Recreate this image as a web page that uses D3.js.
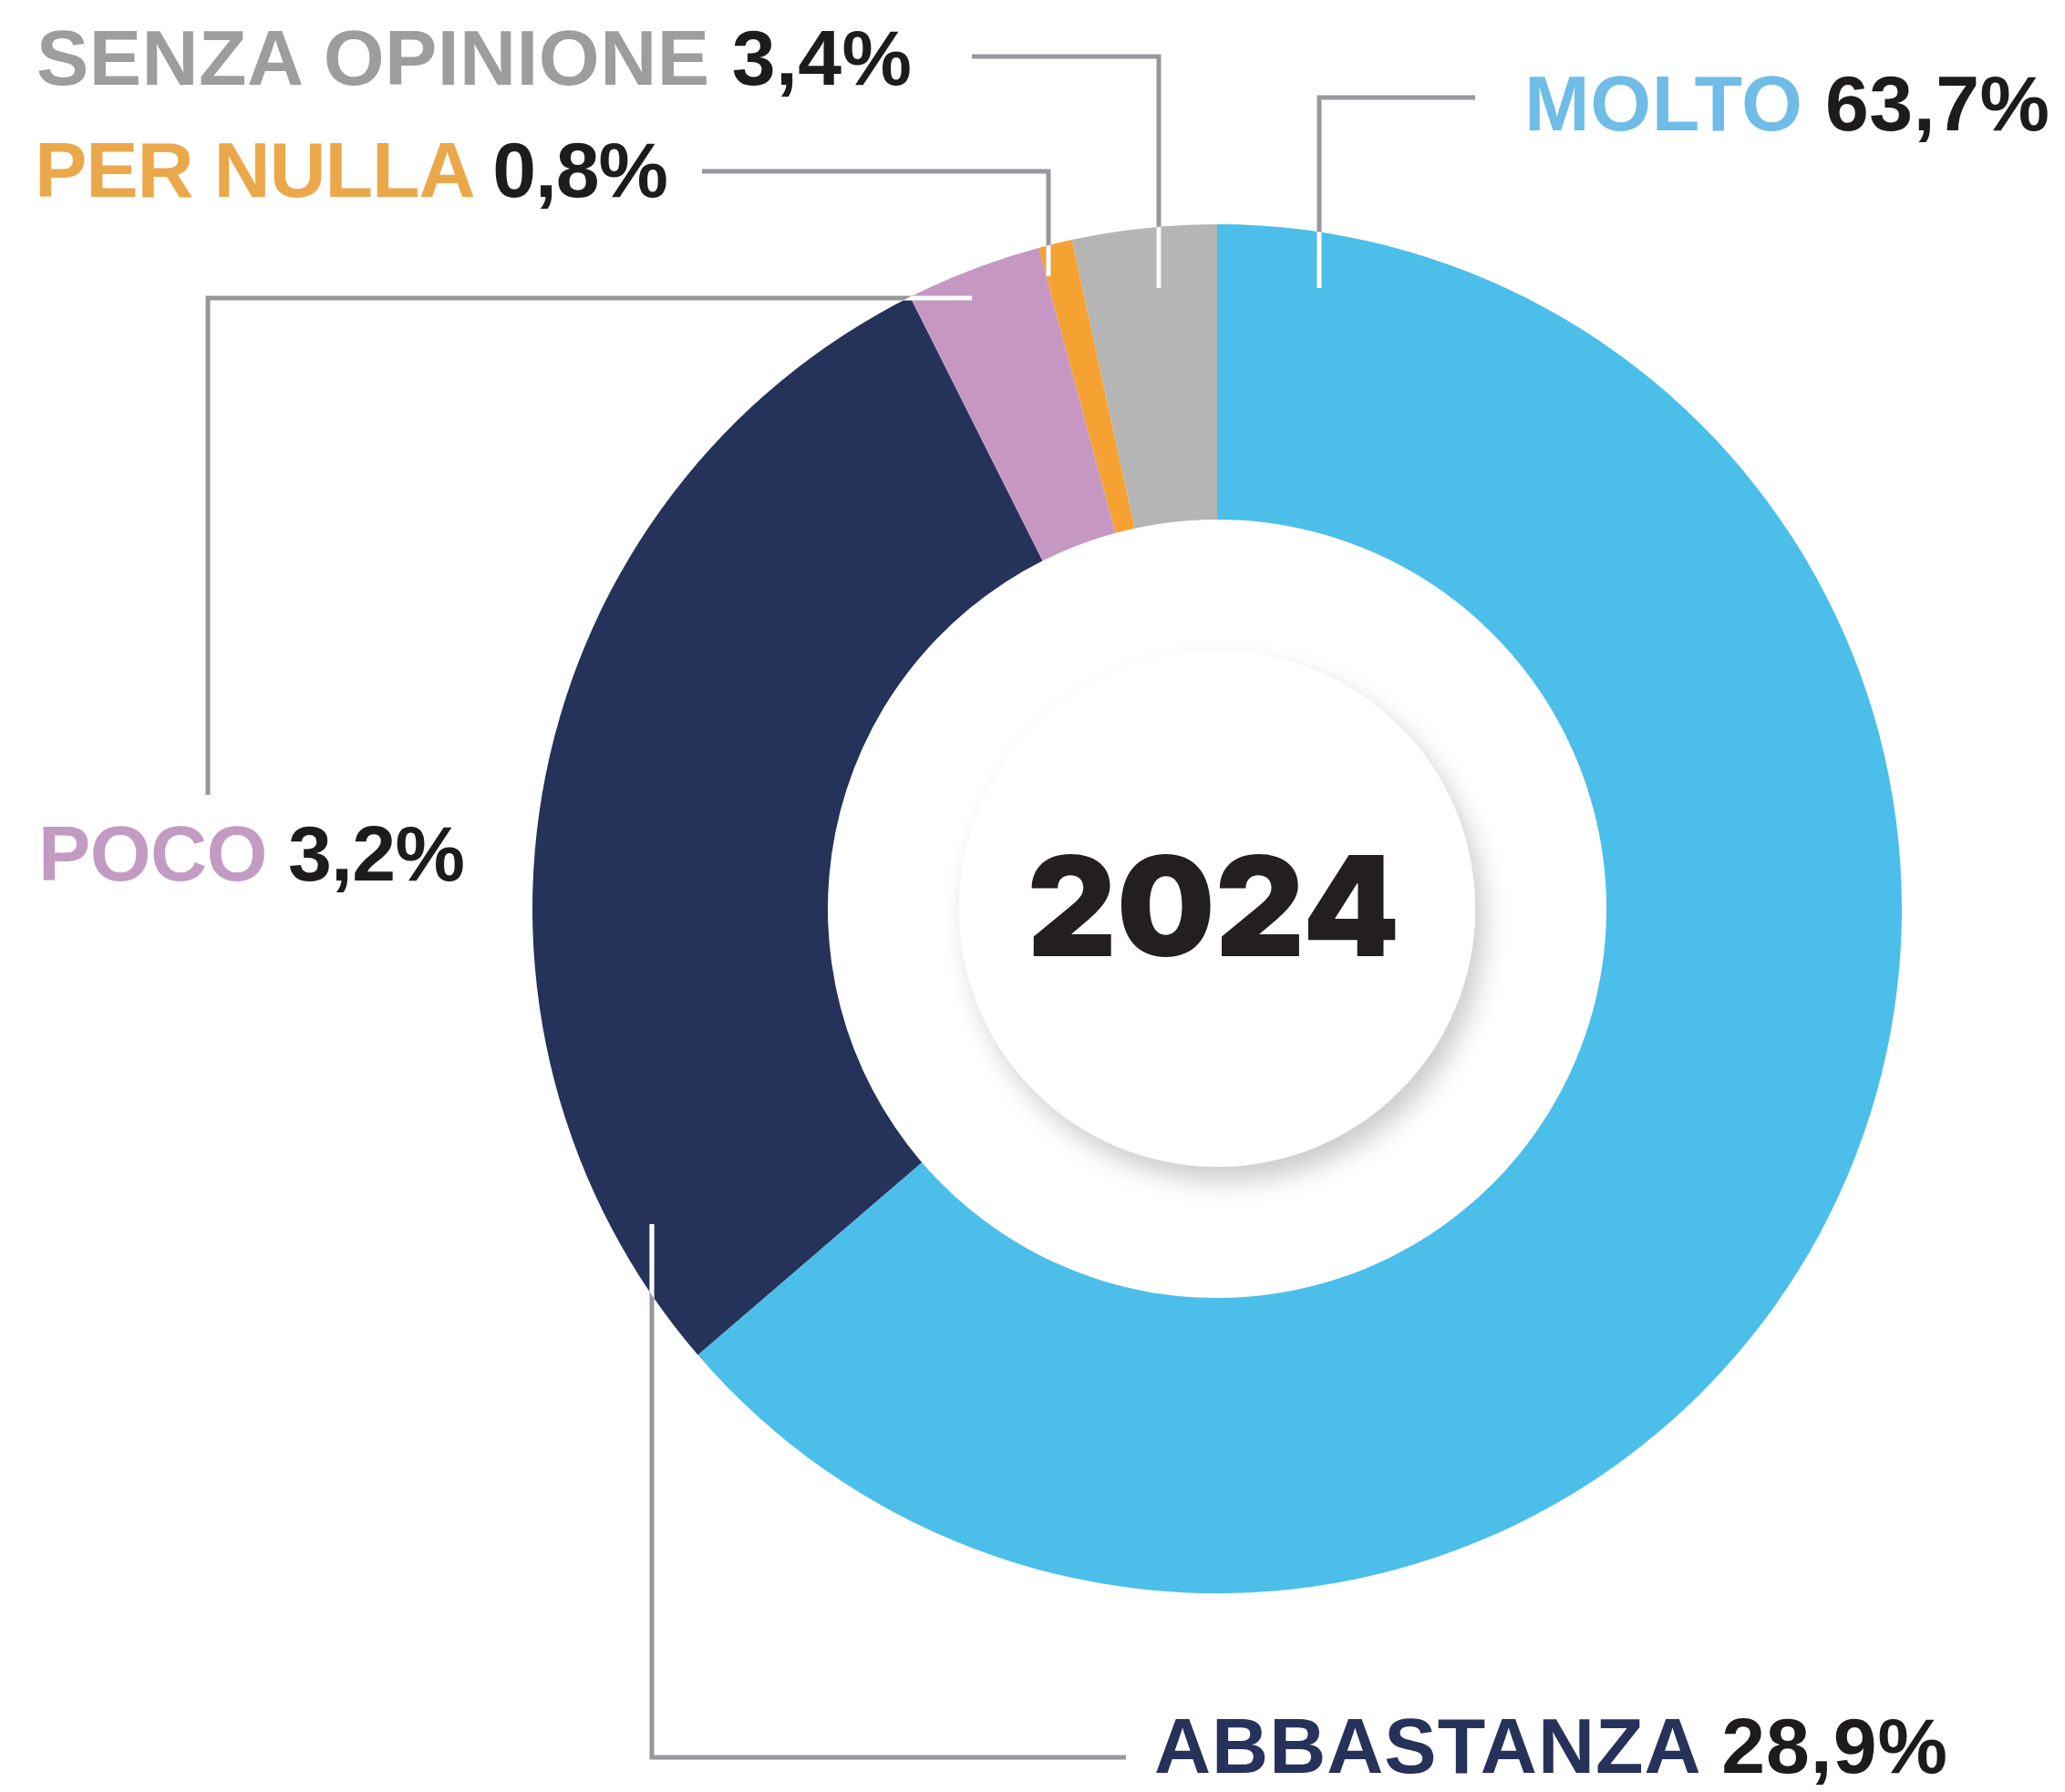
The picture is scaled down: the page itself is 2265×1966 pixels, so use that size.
<!DOCTYPE html>
<html>
<head>
<meta charset="utf-8">
<script src="https://cdn.jsdelivr.net/npm/d3@7"></script>
<style>
  body { margin: 0; background: #fff; }
  text { font-family: "Liberation Sans", Arial, sans-serif; font-weight: bold; }
</style>
</head>
<body>
<svg id="chart" width="2265" height="1966"></svg>
<script>
// data
const categories = ["MOLTO", "ABBASTANZA", "POCO", "PER NULLA", "SENZA OPINIONE"];
const values = [63.7, 28.9, 3.2, 0.8, 3.4];
const valueLabels = ["63,7%", "28,9%", "3,2%", "0,8%", "3,4%"];
const year = "2024";

// styles
const sliceColors = ["#4bbfea", "#25335a", "#c797c3", "#f5a233", "#b5b5b5"];
const labelColors = ["#6fbde6", "#27325a", "#c29bc3", "#eba84a", "#9d9d9d"];
const leaderColor = "#97989c";

// label placement (baseline start, target width) and leader polylines, in pixels
const layout = {
    "MOLTO":          { x: 1672, y: 143,  w: 576, leader: [[1618, 107], [1447, 107], [1447, 316]] },
    "ABBASTANZA":     { x: 1266, y: 1945, w: 870, leader: [[1235, 1928], [715, 1928], [715, 1343]] },
    "POCO":           { x: 42,   y: 966,  w: 468, leader: [[228, 872], [228, 327], [1066, 327]] },
    "PER NULLA":      { x: 38,   y: 216,  w: 695, leader: [[770, 188], [1150, 188], [1150, 303]] },
    "SENZA OPINIONE": { x: 40,   y: 93,   w: 960, leader: [[1066, 62], [1271, 62], [1271, 316]] }
};

const cx = 1335, cy = 997;
const rOuter = 751, rInner = 427, rDisc = 283;

const svg = d3.select("#chart");
const defs = svg.append("defs");

// soft shadow for the centre disc
const shadow = defs.append("filter")
    .attr("id", "discShadow")
    .attr("x", "-30%").attr("y", "-30%")
    .attr("width", "160%").attr("height", "160%");
shadow.append("feDropShadow")
    .attr("dx", 10).attr("dy", 16)
    .attr("stdDeviation", 14)
    .attr("flood-color", "#000")
    .attr("flood-opacity", 0.2);

const pie = d3.pie().sort(null).value(d => d.value);
const arcs = pie(categories.map((c, i) => ({ name: c, value: values[i] })));

const arc = d3.arc().innerRadius(rInner).outerRadius(rOuter);

const g = svg.append("g").attr("transform", `translate(${cx},${cy})`);

g.selectAll("path.slice")
    .data(arcs)
    .enter()
    .append("path")
    .attr("class", "slice")
    .attr("d", arc)
    .attr("fill", (d, i) => sliceColors[i]);

// clip so leader lines turn white where they cross the ring
const clip = defs.append("clipPath").attr("id", "ringClip");
clip.append("path")
    .attr("transform", `translate(${cx},${cy})`)
    .attr("d", d3.arc().innerRadius(rInner).outerRadius(rOuter)({ startAngle: 0, endAngle: 2 * Math.PI }));

const line = d3.line();

categories.forEach((c, i) => {
    const pts = layout[c].leader;
    svg.append("path")
        .attr("d", line(pts))
        .attr("fill", "none")
        .attr("stroke", leaderColor)
        .attr("stroke-width", 5)
        .attr("stroke-linejoin", "miter");
    svg.append("path")
        .attr("d", line(pts))
        .attr("fill", "none")
        .attr("stroke", "#fff")
        .attr("stroke-width", 5)
        .attr("clip-path", "url(#ringClip)");
});

// labels, letter-spacing nudged so each one spans its target width
categories.forEach((c, i) => {
    const t = svg.append("text")
        .attr("x", layout[c].x)
        .attr("y", layout[c].y)
        .attr("font-size", 86);
    t.append("tspan").attr("fill", labelColors[i]).text(c + " ");
    t.append("tspan").attr("fill", "#1d1b1c").text(valueLabels[i]);
    const full = c + " " + valueLabels[i];
    const measured = t.node().getComputedTextLength();
    const ls = (layout[c].w - measured) / (full.length - 1);
    t.style("letter-spacing", ls + "px");
});

// centre disc with year
svg.append("circle")
    .attr("cx", cx).attr("cy", cy).attr("r", rDisc)
    .attr("fill", "#fff")
    .attr("filter", "url(#discShadow)");

svg.append("text")
    .attr("x", cx - 4)
    .attr("y", cy + 52)
    .attr("text-anchor", "middle")
    .attr("font-size", 152)
    .style("font-family", "Inter, 'Liberation Sans', sans-serif")
    .style("font-weight", 900)
    .attr("fill", "#231f20")
    .text(year);
</script>
</body>
</html>
